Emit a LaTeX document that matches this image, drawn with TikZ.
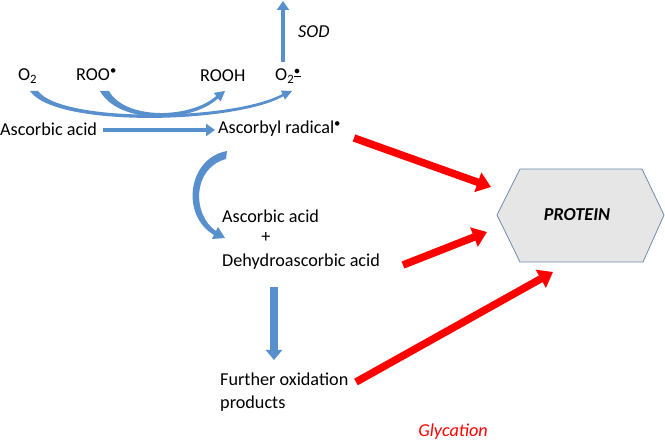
\documentclass[tikz,border=0pt]{standalone}
\usepackage{fontspec}
\setmainfont{Carlito}
\usetikzlibrary{arrows.meta}
\definecolor{abl}{RGB}{88,143,205}
\definecolor{abldark}{RGB}{65,113,170}
\definecolor{hexfill}{RGB}{230,230,230}
\definecolor{hexline}{RGB}{110,140,175}
\tikzset{
  txt/.style={inner sep=0pt, font=\fontsize{18.2}{22}\selectfont, text=black},
  bluearrow/.style={draw=abl, line width=#1},
  redarrow/.style={draw=red, line width=7.5pt, -{Triangle[length=14pt,width=20pt]}},
}
\begin{document}
\begin{tikzpicture}[x=1pt,y=-1pt]
\useasboundingbox (0,0) rectangle (665,443);
% texts
\node[txt,anchor=west] (o2) at (18,76) {O\textsubscript{2}};
\node[txt,anchor=west] (roo) at (76,75) {ROO\textsuperscript{•}};
\node[txt,anchor=west] (rooh) at (200,76) {ROOH};
\node[txt,anchor=west] (o2r) at (275,76) {O\textsubscript{2}$^{\underline{\bullet}}$};
\node[txt,anchor=west,font=\fontsize{18.2}{22}\selectfont\itshape] (sod) at (298,32) {SOD};
\node[txt,anchor=west] (asc) at (0,129) {Ascorbic acid};
\node[txt,anchor=west] (ascr) at (218,129) {Ascorbyl radical\textsuperscript{•}};
\node[txt,anchor=west] (asc2) at (222,216) {Ascorbic acid};
\node[txt] (plus) at (266,238) {+};
\node[txt,anchor=west] (dha) at (222,262) {Dehydroascorbic acid};
\node[txt,anchor=west,align=left,font=\fontsize{18.2}{23}\selectfont] (fur) at (220,392) {Further oxidation\\products};
\node[txt,text=red,font=\fontsize{18.2}{22}\selectfont\itshape] (gly) at (453,432) {Glycation};
% protein hexagon
\draw[draw=hexline, fill=hexfill, line width=0.8pt] (497,215) -- (520,169) -- (642,169) -- (664,215) -- (643,262) -- (520,262) -- cycle;
\node[txt,font=\fontsize{18.2}{22}\selectfont\bfseries\itshape] (prot) at (577,215) {PROTEIN};
% coordinates
\coordinate (sodS) at (283,62);
\coordinate (sodE) at (283,1);
\coordinate (h1) at (103,130);
\coordinate (h2) at (215,130);
\coordinate (d1) at (274,287);
\coordinate (d2) at (274,360);
\coordinate (r1a) at (354,138);
\coordinate (r1b) at (491,187);
\coordinate (r2a) at (403,265);
\coordinate (r2b) at (487,232);
\coordinate (r3a) at (356,382);
\coordinate (r3b) at (553,272);
% blue straight arrows
\draw[bluearrow=4.5pt, -{Triangle[length=9pt,width=12pt]}] (sodS) -- (sodE);
\draw[bluearrow=4.5pt, -{Triangle[length=9pt,width=12pt]}] (h1) -- (h2);
\draw[bluearrow=8pt, -{Triangle[length=10pt,width=16pt]}] (d1) -- (d2);
% O2 arc (tapered)
\fill[abl] (30,91) .. controls (55,128) and (235,124) .. (283.4,96.2) -- (284.95,99.65) -- (292,91) -- (280.85,90.55) -- (282.4,94.0) .. controls (232,121) and (62,123) .. (38,91) -- cycle;
% ROO arc (tapered)
\fill[abl] (100,91) .. controls (118,124) and (190,124) .. (218.1,98.4) -- (220.6,101.5) -- (225,91) -- (213.8,92.9) -- (216.3,96.0) .. controls (190,119) and (125,120) .. (109,91) -- cycle;
% crescent arrow
\fill[abl] (227,151) .. controls (188,158) and (180,215) .. (214,235) -- (212,239) -- (225,238) -- (218,227) -- (216,231) .. controls (192,215) and (192,168) .. (226,159) -- cycle;
% red arrows
\draw[redarrow] (r1a) -- (r1b);
\draw[redarrow] (r2a) -- (r2b);
\draw[redarrow] (r3a) -- (r3b);
\end{tikzpicture}
\end{document}
